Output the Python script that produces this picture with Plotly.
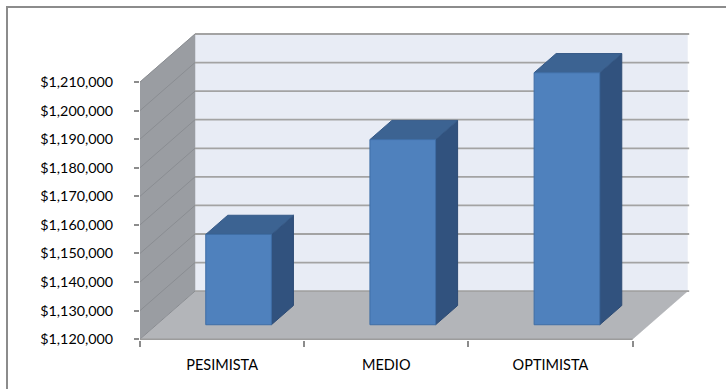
import plotly.graph_objects as go

# Scenario results
categories = ["PESIMISTA", "MEDIO", "OPTIMISTA"]
values = [1151600, 1184800, 1208200]
tick_values = list(range(1120000, 1210001, 10000))

BASE = tick_values[0]
TOP = tick_values[-1]

# Oblique projection of the depth axis: shift of the back plane
DX = 0.335      # in category units
DY = 16800      # in value units
BAR_HALF = 0.2  # gap width 150 %
D_FRONT, D_BACK = 0.3, 0.7

X_LO = -0.5
X_HI = len(categories) - 0.5

WALL_BACK = "#E8ECF5"
WALL_SIDE = "#9A9DA2"
FLOOR = "#B3B5B9"
GRID = "#A3A3A3"
BAR_FRONT = "#4F81BD"
BAR_TOP = "#3C6392"
BAR_SIDE = "#31527E"


def pt(x, y, d):
    return x + d * DX, y + d * DY


def poly(points, fill, line_color, line_width=1.0):
    xs = [p[0] for p in points] + [points[0][0]]
    ys = [p[1] for p in points] + [points[0][1]]
    return go.Scatter(
        x=xs, y=ys, mode="lines", fill="toself", fillcolor=fill,
        line=dict(color=line_color, width=line_width),
        hoverinfo="skip", showlegend=False,
    )


fig = go.Figure()

# Walls and floor
fig.add_trace(poly([pt(X_LO, BASE, 1), pt(X_HI, BASE, 1), pt(X_HI, TOP, 1), pt(X_LO, TOP, 1)],
                   WALL_BACK, WALL_BACK, 0.5))
fig.add_trace(poly([pt(X_LO, BASE, 0), pt(X_LO, BASE, 1), pt(X_LO, TOP, 1), pt(X_LO, TOP, 0)],
                   WALL_SIDE, WALL_SIDE, 0.5))
fig.add_trace(poly([pt(X_LO, BASE, 0), pt(X_HI, BASE, 0), pt(X_HI, BASE, 1), pt(X_LO, BASE, 1)],
                   FLOOR, FLOOR, 0.5))

# Gridlines on the back wall
gx, gy = [], []
for v in tick_values:
    a, b = pt(X_LO, v, 1), pt(X_HI + 0.01, v, 1)
    gx += [a[0], b[0], None]
    gy += [a[1], b[1], None]
fig.add_trace(go.Scatter(x=gx, y=gy, mode="lines", line=dict(color=GRID, width=1.8),
                         hoverinfo="skip", showlegend=False))

# Gridlines on the side wall
sx, sy = [], []
for v in tick_values:
    a, b = pt(X_LO, v, 0), pt(X_LO, v, 1)
    sx += [a[0], b[0], None]
    sy += [a[1], b[1], None]
fig.add_trace(go.Scatter(x=sx, y=sy, mode="lines", line=dict(color="#8A8D92", width=1),
                         hoverinfo="skip", showlegend=False))

# Front edge of the floor
fig.add_trace(go.Scatter(x=[X_LO, X_HI], y=[BASE, BASE], mode="lines",
                         line=dict(color="#9C9C9C", width=1.5),
                         hoverinfo="skip", showlegend=False))

# 3D columns
for i, v in enumerate(values):
    l, r = i - BAR_HALF, i + BAR_HALF
    fig.add_trace(poly([pt(r, BASE, D_FRONT), pt(r, v, D_FRONT), pt(r, v, D_BACK), pt(r, BASE, D_BACK)],
                       BAR_SIDE, "#2D4B74"))
    fig.add_trace(poly([pt(l, v, D_FRONT), pt(r, v, D_FRONT), pt(r, v, D_BACK), pt(l, v, D_BACK)],
                       BAR_TOP, "#365A88"))
    fig.add_trace(poly([pt(l, BASE, D_FRONT), pt(r, BASE, D_FRONT), pt(r, v, D_FRONT), pt(l, v, D_FRONT)],
                       BAR_FRONT, "#3F6EA6"))

# Layout geometry (pixels)
W, H = 726, 389
ML, MR, MT, MB = 140, 36, 32, 49
PW, PH = W - ML - MR, H - MT - MB


def paper_x(px):
    return (px - ML) / PW


def paper_y(py):
    return (H - MB - py) / PH


fig.update_layout(
    width=W, height=H,
    margin=dict(l=ML, r=MR, t=MT, b=MB, pad=0),
    paper_bgcolor="white", plot_bgcolor="rgba(0,0,0,0)",
    font=dict(family="Lato, Carlito, sans-serif", size=14, color="#000000"),
    showlegend=False, hovermode=False,
    xaxis=dict(
        range=[X_LO, X_HI + 0.35], showgrid=False, zeroline=False, showline=False,
        tickmode="array", tickvals=list(range(len(categories))), ticktext=categories,
        ticks="", ticklabelstandoff=14, tickfont=dict(size=14.5),
        minor=dict(tickmode="array", tickvals=[X_LO + k for k in range(len(categories) + 1)],
                   ticks="outside", ticklen=6, tickcolor="#8C8C8C", tickwidth=1.5, showgrid=False),
        fixedrange=True,
    ),
    yaxis=dict(
        range=[BASE - 300, TOP + DY + 700], showgrid=False, zeroline=False, showline=False,
        tickmode="array", tickvals=tick_values, tickformat="$,.0f",
        ticks="outside", ticklen=5, tickcolor="#8C8C8C", tickwidth=1.5,
        ticklabelstandoff=18, tickfont=dict(size=14.3), fixedrange=True,
    ),
    shapes=[dict(
        type="rect", xref="paper", yref="paper", layer="below",
        x0=paper_x(7), x1=paper_x(732), y0=paper_y(395), y1=paper_y(7),
        line=dict(color="#8C8C8C", width=2), fillcolor="rgba(0,0,0,0)",
    )],
)

fig.write_html("out.html")
